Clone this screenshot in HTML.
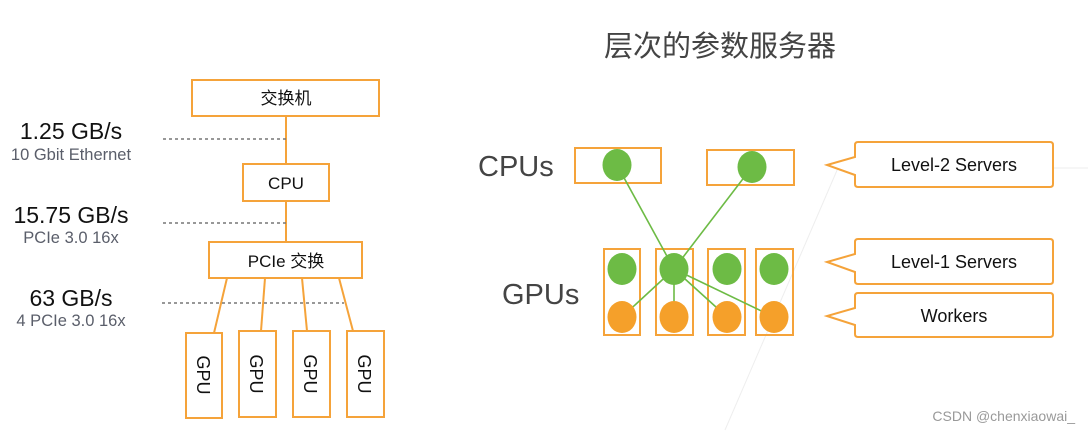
<!DOCTYPE html>
<html><head><meta charset="utf-8"><style>
body{margin:0;background:#fff;}
svg{display:block;}
text{font-family:"Liberation Sans","Noto Sans CJK SC",sans-serif;}
</style></head><body>
<svg width="1088" height="433" viewBox="0 0 1088 433" xmlns="http://www.w3.org/2000/svg">
<line x1="838" y1="168" x2="725" y2="430" stroke="#eee" stroke-width="1"/>
<line x1="1053" y1="168" x2="1088" y2="168" stroke="#eee" stroke-width="1"/>

<g fill="none" stroke="#f5a33a" stroke-width="2">
<rect x="192" y="80" width="187" height="36"/>
<rect x="243" y="164" width="86" height="37"/>
<rect x="209" y="242" width="153" height="36"/>
<rect x="186" y="333" width="36" height="85"/>
<rect x="239" y="331" width="37" height="86"/>
<rect x="293" y="331" width="37" height="86"/>
<rect x="347" y="331" width="37" height="86"/>
<line x1="286" y1="116" x2="286" y2="164"/>
<line x1="286" y1="201" x2="286" y2="242"/>
<line x1="227" y1="278" x2="214" y2="333"/>
<line x1="265" y1="278" x2="261" y2="331"/>
<line x1="302" y1="278" x2="307" y2="331"/>
<line x1="339" y1="278" x2="353" y2="331"/>
</g>
<g stroke="#777" stroke-width="1.5" stroke-dasharray="3,3">
<line x1="163" y1="139" x2="286" y2="139"/>
<line x1="163" y1="223" x2="286" y2="223"/>
<line x1="162" y1="303" x2="344" y2="303"/>
</g>
<g font-size="17" fill="#111" text-anchor="middle">
<text x="286" y="104">交换机</text>
<text x="286" y="189">CPU</text>
<text x="286" y="267">PCIe 交换</text>
</g>
<g font-size="18" fill="#111">
<text transform="translate(197,375) rotate(90)" text-anchor="middle">GPU</text>
<text transform="translate(250,374) rotate(90)" text-anchor="middle">GPU</text>
<text transform="translate(304,374) rotate(90)" text-anchor="middle">GPU</text>
<text transform="translate(358,374) rotate(90)" text-anchor="middle">GPU</text>
</g>
<g text-anchor="middle">
<text x="71" y="139" font-size="23" fill="#111">1.25 GB/s</text>
<text x="71" y="160" font-size="16.5" fill="#5a5e6a">10 Gbit Ethernet</text>
<text x="71" y="223" font-size="23" fill="#111">15.75 GB/s</text>
<text x="71" y="243" font-size="16.5" fill="#5a5e6a">PCIe 3.0 16x</text>
<text x="71" y="306" font-size="23" fill="#111">63 GB/s</text>
<text x="71" y="326" font-size="16.5" fill="#5a5e6a">4 PCIe 3.0 16x</text>
</g>

<text x="720" y="56" font-size="29" fill="#444" text-anchor="middle">层次的参数服务器</text>
<text x="478" y="176" font-size="29" fill="#444">CPUs</text>
<text x="502" y="304" font-size="29" fill="#444">GPUs</text>

<g fill="none" stroke="#f5a33a" stroke-width="2">
<rect x="575" y="148" width="86" height="35"/>
<rect x="707" y="150" width="87" height="35"/>
<rect x="604" y="249" width="36" height="86"/>
<rect x="656" y="249" width="37" height="86"/>
<rect x="708" y="249" width="37" height="86"/>
<rect x="756" y="249" width="37" height="86"/>
</g>
<g stroke="#6dbb45" stroke-width="1.6">
<line x1="617" y1="165" x2="674" y2="269"/>
<line x1="752" y1="167" x2="674" y2="269"/>
<line x1="674" y1="269" x2="622" y2="317"/>
<line x1="674" y1="269" x2="674" y2="317"/>
<line x1="674" y1="269" x2="727" y2="317"/>
<line x1="674" y1="269" x2="774" y2="317"/>
</g>
<g fill="#6dbb45">
<ellipse cx="617" cy="165" rx="14.5" ry="16"/>
<ellipse cx="752" cy="167" rx="14.5" ry="16"/>
<ellipse cx="622" cy="269" rx="14.5" ry="16"/>
<ellipse cx="674" cy="269" rx="14.5" ry="16"/>
<ellipse cx="727" cy="269" rx="14.5" ry="16"/>
<ellipse cx="774" cy="269" rx="14.5" ry="16"/>
</g>
<g fill="#f5a02a">
<ellipse cx="622" cy="317" rx="14.5" ry="16"/>
<ellipse cx="674" cy="317" rx="14.5" ry="16"/>
<ellipse cx="727" cy="317" rx="14.5" ry="16"/>
<ellipse cx="774" cy="317" rx="14.5" ry="16"/>
</g>

<g fill="#fff" stroke="#f5a33a" stroke-width="2" stroke-linejoin="miter">
<path d="M858,142 H1050 Q1053,142 1053,145 V184 Q1053,187 1050,187 H858 Q855,187 855,184 V175 L827,165 L855,157 V145 Q855,142 858,142 Z"/>
<path d="M858,239 H1050 Q1053,239 1053,242 V281 Q1053,284 1050,284 H858 Q855,284 855,281 V272 L827,262 L855,254 V242 Q855,239 858,239 Z"/>
<path d="M858,293 H1050 Q1053,293 1053,296 V334 Q1053,337 1050,337 H858 Q855,337 855,334 V325 L827,316 L855,308 V296 Q855,293 858,293 Z"/>
</g>
<g font-size="18" fill="#111" text-anchor="middle">
<text x="954" y="171">Level-2 Servers</text>
<text x="954" y="268">Level-1 Servers</text>
<text x="954" y="322">Workers</text>
</g>

<text x="1075" y="421" font-size="14" fill="#999" text-anchor="end">CSDN @chenxiaowai_</text>
</svg>
</body></html>
